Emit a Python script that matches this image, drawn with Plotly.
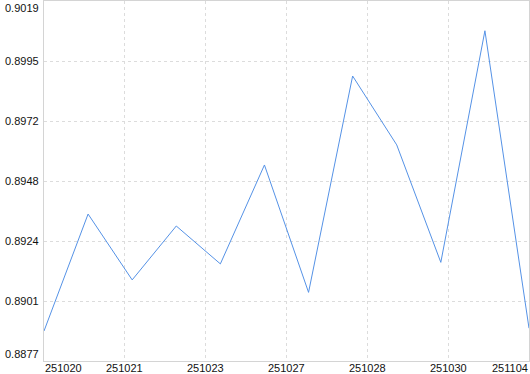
import plotly.graph_objects as go
import numpy as np

# data
x_index = list(range(12))
values = [0.88890, 0.89350, 0.89091, 0.89303, 0.89154, 0.89543,
          0.89042, 0.89893, 0.89622, 0.89160, 0.90071, 0.88901]
x_tick_labels = ["251020", "251021", "251023", "251027", "251028", "251030", "251104"]
y_min, y_max = 0.88772, 0.90188

x_ticks = list(np.linspace(0, 11, len(x_tick_labels)))
y_ticks = list(np.linspace(y_min, y_max, 7))
y_tick_labels = [f"{v:.4f}" for v in y_ticks]

font = dict(family="Liberation Sans, Arial, sans-serif", size=11, color="#111111")

fig = go.Figure()
fig.add_trace(go.Scatter(x=x_index, y=values, mode="lines",
                         line=dict(color="#5592e6", width=1), hoverinfo="skip"))

annotations = []
for i, (v, t) in enumerate(zip(x_ticks, x_tick_labels)):
    anchor = "left" if i == 0 else ("right" if i == len(x_ticks) - 1 else "center")
    annotations.append(dict(x=v, y=0, xref="x", yref="paper", text=t, showarrow=False,
                            xanchor=anchor, yanchor="top", yshift=0, font=font, borderpad=0))
for i, (v, t) in enumerate(zip(y_ticks, y_tick_labels)):
    if i == 0:
        ya = "bottom"
    elif i == len(y_ticks) - 1:
        ya = "top"
    else:
        ya = "middle"
    annotations.append(dict(x=0, y=v, xref="paper", yref="y", text=t, showarrow=False,
                            xanchor="right", yanchor=ya, xshift=-4, font=font, borderpad=0))

grid = dict(showgrid=True, gridcolor="#dcdcdc", griddash="3px,3px", gridwidth=1,
            showline=True, linecolor="#d4d4d4", linewidth=1, mirror=True,
            zeroline=False, ticks="", showticklabels=False)

fig.update_layout(
    width=530, height=374,
    margin=dict(l=44, r=1, t=1, b=13),
    paper_bgcolor="white", plot_bgcolor="white",
    showlegend=False,
    annotations=annotations,
    xaxis=dict(range=[0, 11], tickvals=x_ticks, **grid),
    yaxis=dict(range=[y_min, y_max], tickvals=y_ticks, **grid),
)

fig.write_html("out.html")
